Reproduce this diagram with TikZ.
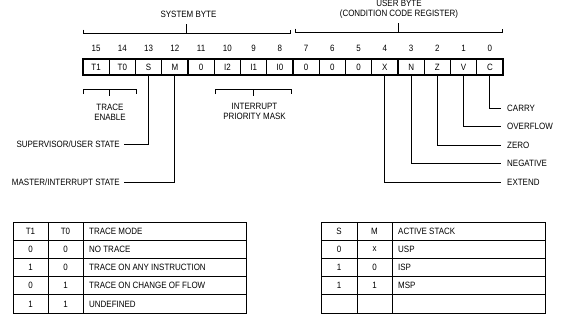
\documentclass[tikz,border=0pt]{standalone}
\usepackage{fontspec}
\setmainfont{Liberation Sans}[FakeStretch=0.87]
\usetikzlibrary{calc}
\begin{document}
\begin{tikzpicture}[x=1bp,y=-1bp,
  txt/.style={inner sep=0pt,font=\fontsize{9.2}{10.5}\selectfont},
  bitbox/.style={draw,line width=1.2bp,minimum width=26.25bp,minimum height=16bp,inner sep=0pt,font=\fontsize{9.2}{10.5}\selectfont},
  ln/.style={line width=0.8bp},
  grid/.style={line width=0.8bp}]
\useasboundingbox (0,0) rectangle (565,325);
% register boxes
\foreach \k/\t in {15/T1,14/T0,13/S,12/M,11/0,10/I2,9/I1,8/I0,7/0,6/0,5/0,4/X,3/N,2/Z,1/V,0/C}{
  \pgfmathsetmacro{\xc}{96.125+26.25*(15-\k)}
  \node[bitbox] (b\k) at (\xc,67) {\t};
  \node[txt] (n\k) at (\xc,48) {\k};
}
% top labels
\node[txt] (sys) at (188.5,14) {SYSTEM BYTE};
\node[txt,align=center,font=\fontsize{9.2}{10}\selectfont] (usr) at (399,9.4) {USER BYTE\\(CONDITION CODE REGISTER)};
% system byte brace
\coordinate (sl) at (83,33); \coordinate (sr) at (290,33);
\draw[ln] ([yshift=3.5bp]sl) -- (sl) -- (sr) -- ([yshift=3.5bp]sr);
\draw[ln] ($(sl)!0.5!(sr)$) -- ++(0,-9);
% user byte brace
\coordinate (ul) at (295,32); \coordinate (ur) at (502,32);
\draw[ln] ([yshift=3.5bp]ul) -- (ul) -- (ur) -- ([yshift=3.5bp]ur);
\draw[ln] ($(ul)!0.5!(ur)$) -- ++(0,-9);
% trace enable brace
\coordinate (tl) at (83,89); \coordinate (tr) at (136,89);
\draw[ln] ([yshift=-5bp]tl) -- (tl) -- (tr) -- ([yshift=-5bp]tr);
\draw[ln] ($(tl)!0.5!(tr)$) -- ++(0,7);
\node[txt,align=center] (te) at (110,112.5) {TRACE\\ENABLE};
% interrupt brace
\coordinate (il) at (215,89); \coordinate (ir) at (291,89);
\draw[ln] ([yshift=-5bp]il) -- (il) -- (ir) -- ([yshift=-5bp]ir);
\draw[ln] ($(il)!0.5!(ir)$) -- ++(0,7);
\node[txt,align=center] (ipm) at (254.5,111.5) {INTERRUPT\\PRIORITY MASK};
% left labels
\node[txt,anchor=east] (sus) at (120,144) {SUPERVISOR/USER STATE};
\node[txt,anchor=east] (mis) at (120,182) {MASTER/INTERRUPT STATE};
\draw[ln] (b13.south) |- ([xshift=4bp]sus.east);
\draw[ln] (b12.south) |- ([xshift=4bp]mis.east);
% right labels
\node[txt,anchor=west] (carry) at (507,108) {CARRY};
\node[txt,anchor=west] (ovf) at (507,126.5) {OVERFLOW};
\node[txt,anchor=west] (zero) at (507,145) {ZERO};
\node[txt,anchor=west] (neg) at (507,163.5) {NEGATIVE};
\node[txt,anchor=west] (ext) at (507,182) {EXTEND};
\draw[ln] (b0.south) |- ([xshift=-6bp]carry.west);
\draw[ln] (b1.south) |- ([xshift=-6bp]ovf.west);
\draw[ln] (b2.south) |- ([xshift=-6bp]zero.west);
\draw[ln] (b3.south) |- ([xshift=-6bp]neg.west);
\draw[ln] (b4.south) |- ([xshift=-6bp]ext.west);
% left table
\draw[grid] (13,222) rectangle (246,313);
\foreach \y in {240.2,258.4,276.6,294.8} \draw[grid] (13,\y) -- (246,\y);
\draw[grid] (48,222) -- (48,313);
\draw[grid] (83,222) -- (83,313);
\foreach \r/\a/\b/\c in {0/T1/T0/TRACE MODE,1/0/0/NO TRACE,2/1/0/TRACE ON ANY INSTRUCTION,3/0/1/TRACE ON CHANGE OF FLOW,4/1/1/UNDEFINED}{
  \pgfmathsetmacro{\yc}{231.1+18.2*\r}
  \node[txt] (la\r) at (30.5,\yc) {\a};
  \node[txt] (lb\r) at (65.5,\yc) {\b};
  \node[txt,anchor=west] (lc\r) at (89,\yc) {\c};
}
% right table
\draw[grid] (321,222) rectangle (545,313);
\foreach \y in {240.2,258.4,276.6,294.8} \draw[grid] (321,\y) -- (545,\y);
\draw[grid] (357,222) -- (357,313);
\draw[grid] (392,222) -- (392,313);
\foreach \r/\a/\b/\c in {0/S/M/ACTIVE STACK,1/0/x/USP,2/1/0/ISP,3/1/1/MSP}{
  \pgfmathsetmacro{\yc}{231.1+18.2*\r}
  \node[txt] (ra\r) at (339,\yc) {\a};
  \node[txt] (rb\r) at (374.5,\yc) {\b};
  \node[txt,anchor=west] (rc\r) at (398,\yc) {\c};
}
\end{tikzpicture}
\end{document}
